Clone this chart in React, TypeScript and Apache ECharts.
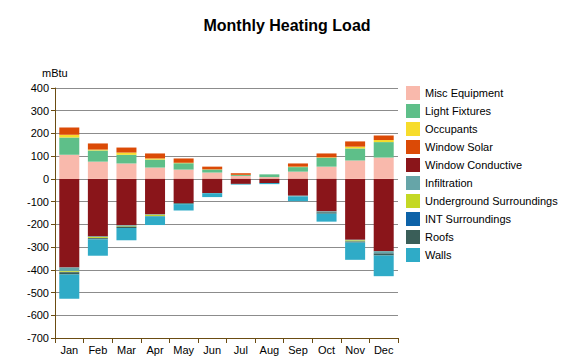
import React, { useEffect, useRef } from "react";
import * as echarts from "echarts";

const months = ["Jan", "Feb", "Mar", "Apr", "May", "Jun", "Jul", "Aug", "Sep", "Oct", "Nov", "Dec"];

const miscEquipment = [106, 76, 68, 50, 41, 28, 13, 8, 32, 54, 81, 94];
const lightFixtures = [76, 49, 38, 35, 28, 13, 4, 12, 20, 39, 53, 68];
const occupants = [12, 4, 10, 5, 2, 1, 1, 0, 2, 2, 8, 9];
const windowSolar = [32, 27, 22, 22, 19, 12, 7, 0, 14, 17, 23, 20];
const windowConductive = [-390, -253, -204, -156, -106, -62, -22, -18, -74, -143, -268, -318];
const infiltration = [-16, -3, -3, -2, -1, 0, 0, 0, -3, -4, -3, -9];
const undergroundSurroundings = [-4, -4, -3, -5, 0, 0, 0, 0, 0, 0, -4, 0];
const intSurroundings = [-1, -1, -1, 0, 0, 0, 0, 0, 0, 0, -1, -1];
const roofs = [-10, -5, -5, -2, -4, -1, 0, 0, 0, -6, -4, -9];
const walls = [-106, -72, -54, -38, -28, -17, -3, -5, -21, -35, -76, -91];

const seriesDefs = [
  { name: "Misc Equipment", data: miscEquipment, color: "#f9b9ac" },
  { name: "Light Fixtures", data: lightFixtures, color: "#5ebf89" },
  { name: "Occupants", data: occupants, color: "#f7dc2b" },
  { name: "Window Solar", data: windowSolar, color: "#db4a06" },
  { name: "Window Conductive", data: windowConductive, color: "#8a151a" },
  { name: "Infiltration", data: infiltration, color: "#66a5a8" },
  { name: "Underground Surroundings", data: undergroundSurroundings, color: "#c4d824" },
  { name: "INT Surroundings", data: intSurroundings, color: "#0d62a8" },
  { name: "Roofs", data: roofs, color: "#3a5e58" },
  { name: "Walls", data: walls, color: "#2fabc7" },
];

const FONT = "'Liberation Sans', Arial, sans-serif";
const AXIS_COLOR = "#6b4c12";

export default function App() {
  const ref = useRef<HTMLDivElement>(null);
  useEffect(() => {
    if (!ref.current) return;
    const chart = echarts.init(ref.current, undefined, { renderer: "svg" });
    chart.setOption({
      animation: false,
      backgroundColor: "#ffffff",
      title: {
        text: "Monthly Heating Load",
        left: 282,
        textAlign: "center",
        top: 12,
        textStyle: { fontFamily: FONT, fontSize: 16, fontWeight: "bold", color: "#000" },
      },
      graphic: [
        {
          type: "text",
          left: 42,
          top: 67,
          style: { text: "mBtu", font: `11px ${FONT}`, fill: "#000" },
        },
      ],
      legend: {
        orient: "vertical",
        left: 406,
        top: 86,
        padding: 0,
        itemWidth: 14,
        itemHeight: 14,
        itemGap: 4,
        icon: "rect",
        textStyle: { fontFamily: FONT, fontSize: 11, color: "#000" },
        data: seriesDefs.map((s) => s.name),
      },
      grid: { left: 55, right: 177, top: 88, bottom: 22, containLabel: false },
      xAxis: {
        type: "category",
        data: months,
        boundaryGap: true,
        axisLine: { onZero: false, lineStyle: { color: AXIS_COLOR, width: 1 } },
        axisTick: { show: true, interval: 0, length: 5, lineStyle: { color: AXIS_COLOR } },
        axisLabel: { interval: 0, fontFamily: FONT, fontSize: 11, color: "#000", margin: 6 },
        splitLine: { show: false },
      },
      yAxis: {
        type: "value",
        min: -700,
        max: 400,
        interval: 100,
        axisLine: { show: true, lineStyle: { color: AXIS_COLOR, width: 1 } },
        axisTick: { show: true, length: 4, lineStyle: { color: AXIS_COLOR } },
        axisLabel: { fontFamily: FONT, fontSize: 11, color: "#000", margin: 6 },
        splitLine: { show: true, lineStyle: { color: "#8c8c8c", width: 1 } },
      },
      series: seriesDefs.map((s) => ({
        name: s.name,
        type: "bar",
        stack: "total",
        data: s.data,
        barWidth: 20,
        itemStyle: { color: s.color },
      })),
    });
    return () => chart.dispose();
  }, []);
  return (
    <div
      ref={ref}
      style={{ position: "fixed", left: 0, top: 0, width: 575, height: 360, background: "#fff" }}
    />
  );
}
